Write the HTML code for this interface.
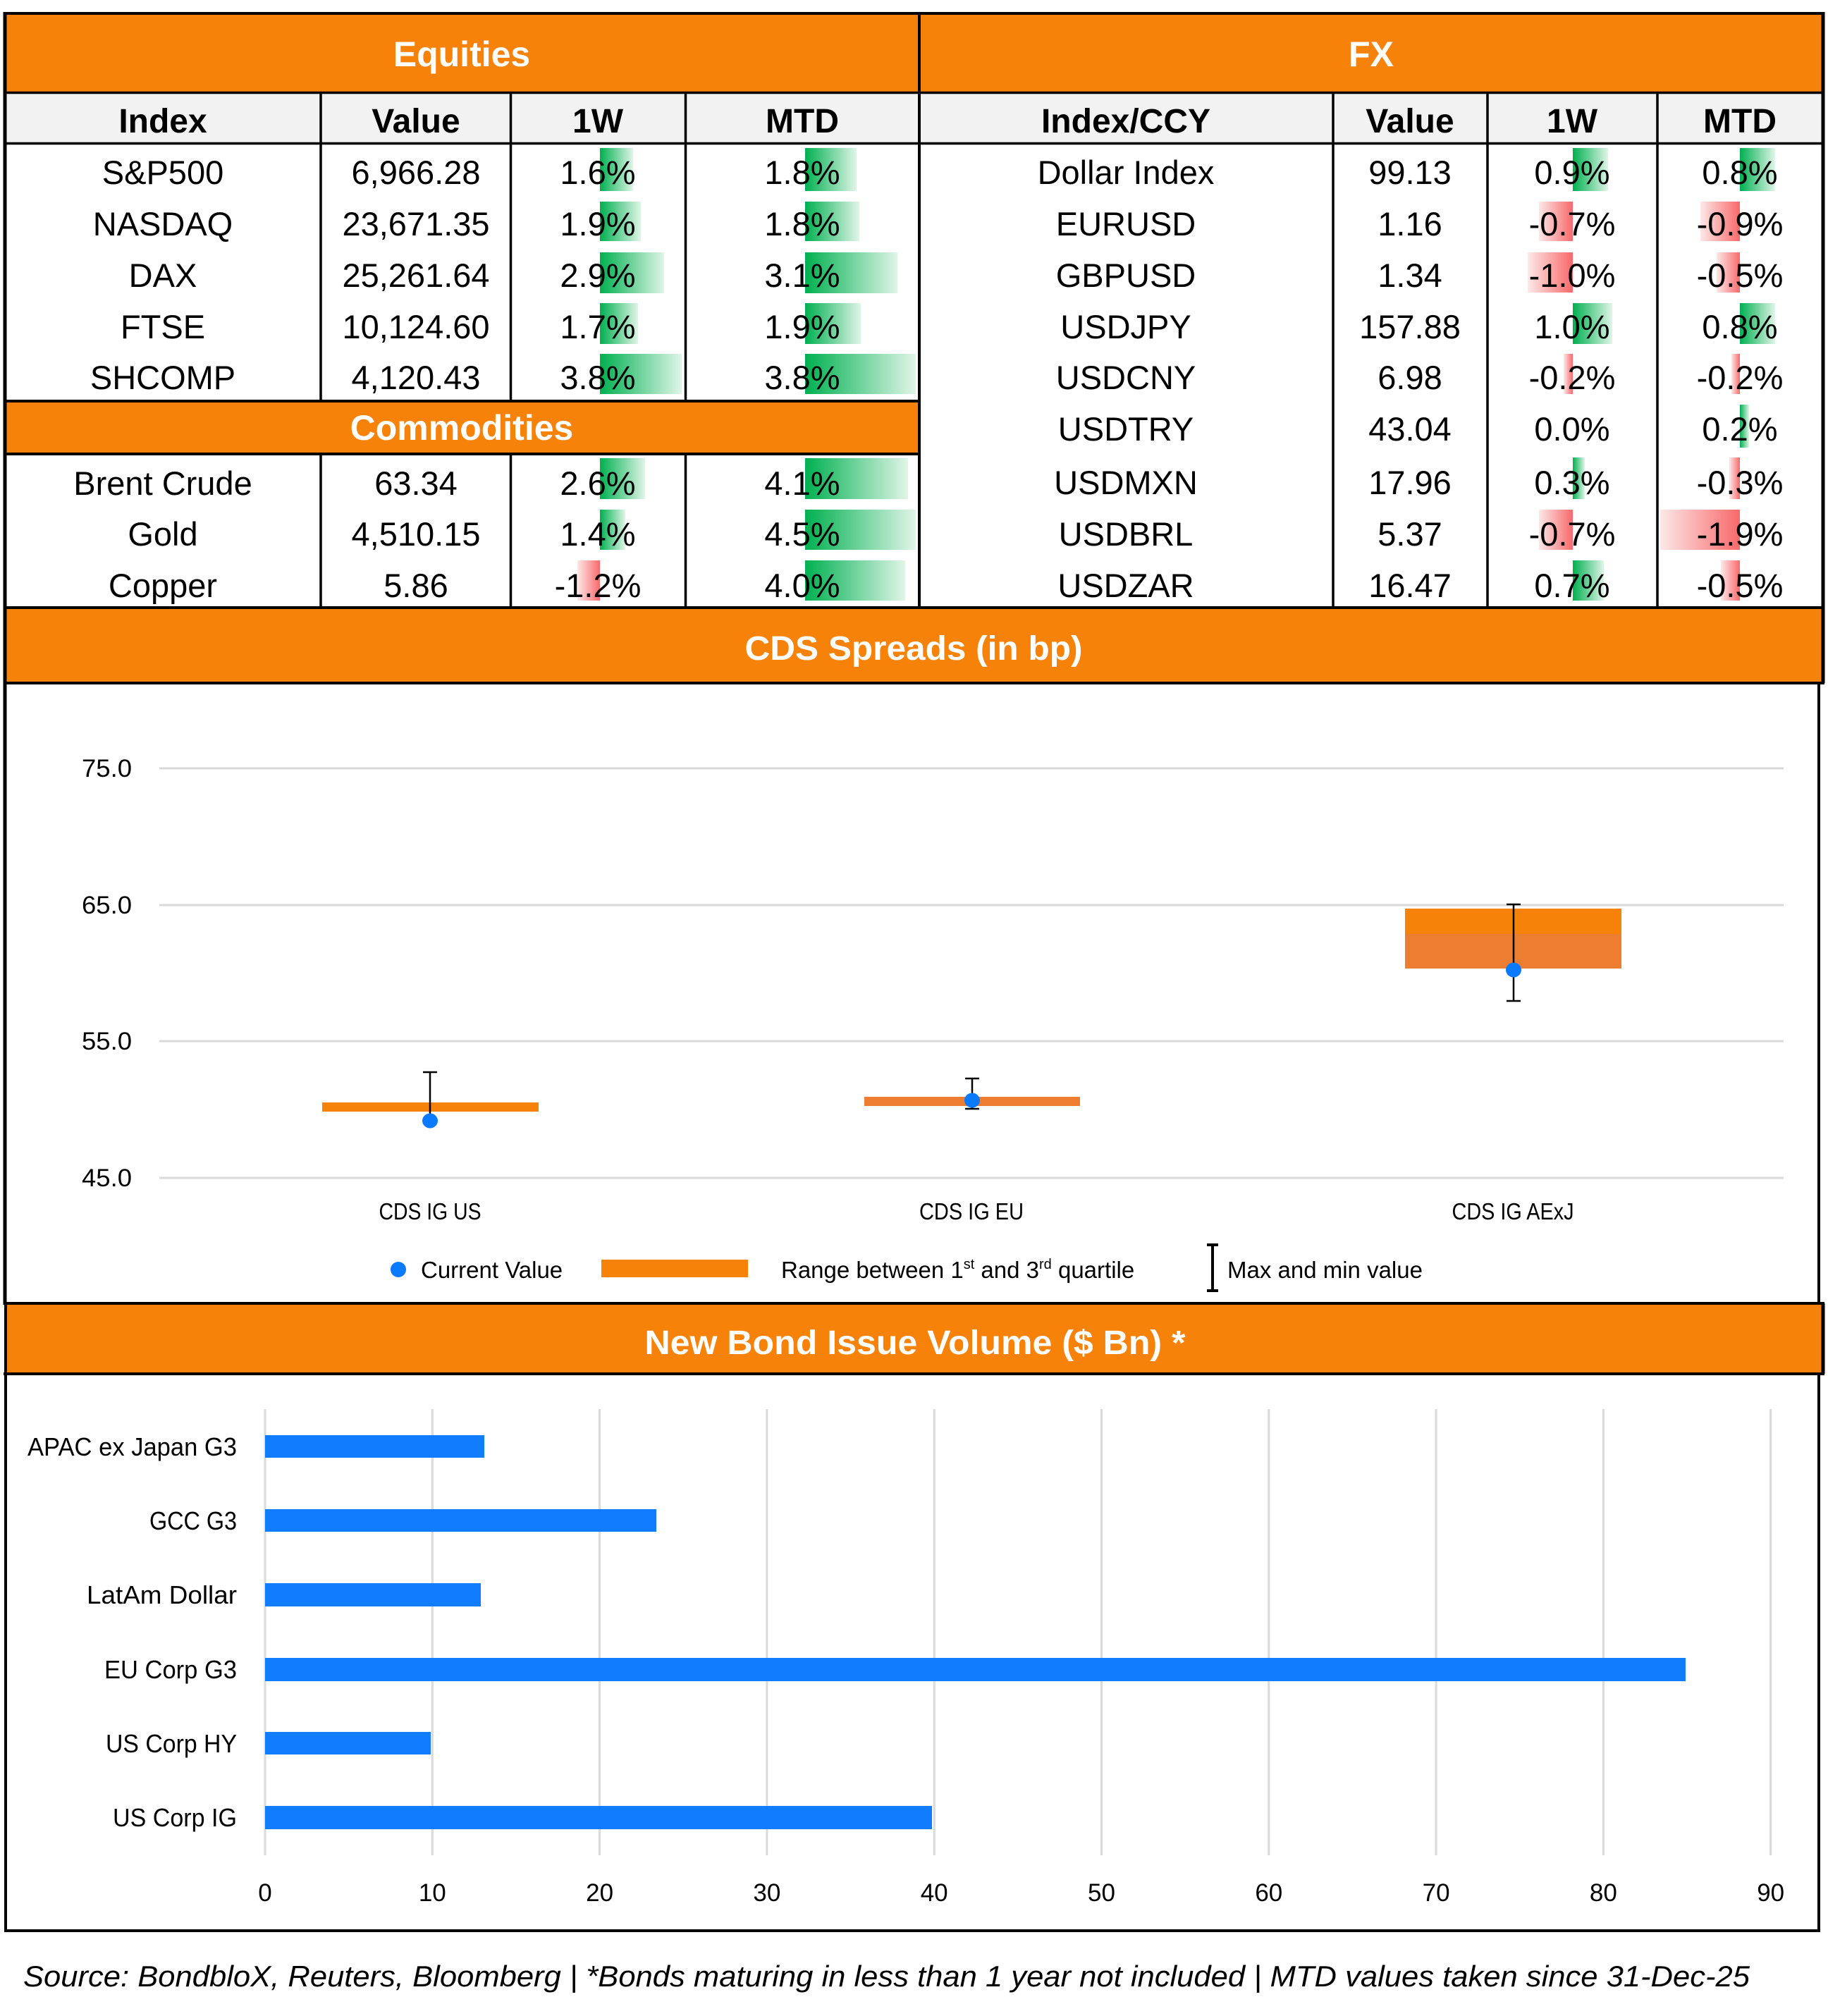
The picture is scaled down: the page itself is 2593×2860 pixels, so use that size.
<!DOCTYPE html>
<html><head><meta charset="utf-8"><style>
html,body{margin:0;padding:0;background:#fff;}
svg{display:block;}
text{font-family:"Liberation Sans",Arial,sans-serif;}
</style></head><body>
<svg width="2593" height="2860" viewBox="0 0 2593 2860" xmlns="http://www.w3.org/2000/svg">
<defs>
<linearGradient id="gG" x1="0" y1="0" x2="1" y2="0"><stop offset="0" stop-color="#00B050"/><stop offset="1" stop-color="#E0F5E8"/></linearGradient>
<linearGradient id="gR" x1="1" y1="0" x2="0" y2="0"><stop offset="0" stop-color="#F8696B"/><stop offset="1" stop-color="#FDE8E8"/></linearGradient>
</defs>
<rect x="0" y="0" width="2593" height="2860" fill="#fff"/>

<!-- TOP TABLE backgrounds -->
<rect x="7" y="21" width="2579" height="110" fill="#F7820A"/>
<rect x="7" y="131" width="2579" height="73" fill="#F2F2F2"/>
<rect x="7" y="569" width="1297" height="75" fill="#F7820A"/>

<!-- Data bars: Equities 1W (axis 851) -->
<g fill="url(#gG)">
<rect x="851" y="210" width="47" height="61"/>
<rect x="851" y="286" width="58" height="56"/>
<rect x="851" y="358" width="91" height="58"/>
<rect x="851" y="430" width="54" height="58"/>
<rect x="851" y="502" width="116" height="57"/>
<!-- Equities MTD (axis 1142) -->
<rect x="1142" y="210" width="73" height="61"/>
<rect x="1142" y="286" width="77" height="56"/>
<rect x="1142" y="358" width="131" height="58"/>
<rect x="1142" y="430" width="79" height="58"/>
<rect x="1142" y="502" width="157" height="57"/>
<!-- Commodities -->
<rect x="851" y="650" width="64" height="58"/>
<rect x="851" y="723" width="36" height="57"/>
<rect x="1142" y="650" width="146" height="58"/>
<rect x="1142" y="723" width="157" height="57"/>
<rect x="1142" y="795" width="142" height="57"/>
<!-- FX 1W (axis 2231) -->
<rect x="2231" y="210" width="50" height="61"/>
<rect x="2231" y="430" width="56" height="58"/>
<rect x="2231" y="649" width="17" height="59"/>
<rect x="2231" y="795" width="44" height="57"/>
<!-- FX MTD (axis 2468) -->
<rect x="2468" y="210" width="50" height="61"/>
<rect x="2468" y="430" width="50" height="58"/>
<rect x="2468" y="574" width="13" height="61"/>
</g>
<g fill="url(#gR)">
<rect x="819" y="795" width="32" height="57"/>
<rect x="2183" y="286" width="48" height="56"/>
<rect x="2167" y="358" width="64" height="57"/>
<rect x="2218" y="502" width="13" height="57"/>
<rect x="2183" y="723" width="48" height="57"/>
<rect x="2412" y="286" width="56" height="56"/>
<rect x="2435" y="358" width="33" height="57"/>
<rect x="2456" y="502" width="12" height="57"/>
<rect x="2453" y="649" width="15" height="59"/>
<rect x="2355" y="723" width="113" height="57"/>
<rect x="2441" y="795" width="27" height="57"/>
</g>

<!-- Table lines -->
<g stroke="#000" fill="none">
<path d="M5 19H2588" stroke-width="4"/>
<path d="M5 131.5H2588M5 203.5H2588" stroke-width="3.5"/>
<path d="M5 569H1304M5 644H1304" stroke-width="4"/>
<path d="M5 862H2588" stroke-width="4"/>
<path d="M7 17V864M2586 17V864" stroke-width="5"/>
<path d="M1304 19V862" stroke-width="4"/>
<path d="M455 131V569M724.5 131V569M972.5 131V569M455 644V862M724.5 644V862M972.5 644V862" stroke-width="3.5"/>
<path d="M1891 131V862M2110 131V862M2351 131V862" stroke-width="3.5"/>
</g>

<!-- Table headers -->
<g font-weight="bold" fill="#fff" font-size="50" text-anchor="middle">
<text x="655" y="94">Equities</text>
<text x="1945" y="94">FX</text>
<text x="655" y="624">Commodities</text>
</g>
<g font-weight="bold" fill="#000" font-size="48" text-anchor="middle">
<text x="231" y="188">Index</text>
<text x="590" y="188">Value</text>
<text x="848" y="188">1W</text>
<text x="1138" y="188">MTD</text>
<text x="1597" y="188">Index/CCY</text>
<text x="2000" y="188">Value</text>
<text x="2230" y="188">1W</text>
<text x="2468" y="188">MTD</text>
</g>

<!-- Table data -->
<g fill="#000" font-size="47" text-anchor="middle">
<text x="231" y="261">S&amp;P500</text><text x="590" y="261">6,966.28</text><text x="848" y="261">1.6%</text><text x="1138" y="261">1.8%</text>
<text x="231" y="334">NASDAQ</text><text x="590" y="334">23,671.35</text><text x="848" y="334">1.9%</text><text x="1138" y="334">1.8%</text>
<text x="231" y="407">DAX</text><text x="590" y="407">25,261.64</text><text x="848" y="407">2.9%</text><text x="1138" y="407">3.1%</text>
<text x="231" y="480">FTSE</text><text x="590" y="480">10,124.60</text><text x="848" y="480">1.7%</text><text x="1138" y="480">1.9%</text>
<text x="231" y="552">SHCOMP</text><text x="590" y="552">4,120.43</text><text x="848" y="552">3.8%</text><text x="1138" y="552">3.8%</text>

<text x="231" y="702">Brent Crude</text><text x="590" y="702">63.34</text><text x="848" y="702">2.6%</text><text x="1138" y="702">4.1%</text>
<text x="231" y="774">Gold</text><text x="590" y="774">4,510.15</text><text x="848" y="774">1.4%</text><text x="1138" y="774">4.5%</text>
<text x="231" y="847">Copper</text><text x="590" y="847">5.86</text><text x="848" y="847">-1.2%</text><text x="1138" y="847">4.0%</text>

<text x="1597" y="261">Dollar Index</text><text x="2000" y="261">99.13</text><text x="2230" y="261">0.9%</text><text x="2468" y="261">0.8%</text>
<text x="1597" y="334">EURUSD</text><text x="2000" y="334">1.16</text><text x="2230" y="334">-0.7%</text><text x="2468" y="334">-0.9%</text>
<text x="1597" y="407">GBPUSD</text><text x="2000" y="407">1.34</text><text x="2230" y="407">-1.0%</text><text x="2468" y="407">-0.5%</text>
<text x="1597" y="480">USDJPY</text><text x="2000" y="480">157.88</text><text x="2230" y="480">1.0%</text><text x="2468" y="480">0.8%</text>
<text x="1597" y="552">USDCNY</text><text x="2000" y="552">6.98</text><text x="2230" y="552">-0.2%</text><text x="2468" y="552">-0.2%</text>
<text x="1597" y="625">USDTRY</text><text x="2000" y="625">43.04</text><text x="2230" y="625">0.0%</text><text x="2468" y="625">0.2%</text>
<text x="1597" y="701">USDMXN</text><text x="2000" y="701">17.96</text><text x="2230" y="701">0.3%</text><text x="2468" y="701">-0.3%</text>
<text x="1597" y="774">USDBRL</text><text x="2000" y="774">5.37</text><text x="2230" y="774">-0.7%</text><text x="2468" y="774">-1.9%</text>
<text x="1597" y="847">USDZAR</text><text x="2000" y="847">16.47</text><text x="2230" y="847">0.7%</text><text x="2468" y="847">-0.5%</text>
</g>

<!-- CDS section -->
<rect x="7" y="864" width="2579" height="104" fill="#F7820A"/>
<g stroke="#000" fill="none">
<path d="M5 969H2588" stroke-width="4"/>
<path d="M7 862V1851" stroke-width="5"/>
<path d="M2586 862V969" stroke-width="5"/>
<path d="M2580 969V1849" stroke-width="4"/>
</g>
<text x="1296" y="936" font-size="48" font-weight="bold" fill="#fff" text-anchor="middle" textLength="479" lengthAdjust="spacingAndGlyphs">CDS Spreads (in bp)</text>

<g stroke="#D9D9D9" stroke-width="3">
<path d="M226 1090H2530M226 1284H2530M226 1477H2530M226 1671H2530"/>
</g>
<g font-size="35" fill="#000" text-anchor="end">
<text x="187" y="1102" textLength="71" lengthAdjust="spacingAndGlyphs">75.0</text>
<text x="187" y="1296" textLength="71" lengthAdjust="spacingAndGlyphs">65.0</text>
<text x="187" y="1489" textLength="71" lengthAdjust="spacingAndGlyphs">55.0</text>
<text x="187" y="1683" textLength="71" lengthAdjust="spacingAndGlyphs">45.0</text>
</g>

<!-- boxes -->
<rect x="457" y="1564" width="307" height="13" fill="#F7820A"/>
<rect x="1226" y="1556" width="306" height="13" fill="#ED7D31"/>
<rect x="1993" y="1289" width="307" height="36" fill="#F7820A"/>
<rect x="1993" y="1325" width="307" height="49" fill="#ED7D31"/>
<!-- error bars -->
<g stroke="#000" stroke-width="2.5" fill="none">
<path d="M610 1521V1590M600 1521H620M600 1590H620"/>
<path d="M1379 1530V1573M1369 1530H1389M1369 1573H1389"/>
<path d="M2147 1283V1420M2137 1283H2157M2137 1420H2157"/>
</g>
<g fill="#0A7BFF">
<ellipse cx="610" cy="1590" rx="11" ry="10.5"/>
<ellipse cx="1379" cy="1561" rx="11" ry="10.5"/>
<ellipse cx="2147" cy="1376" rx="11" ry="10.5"/>
</g>
<g font-size="33" fill="#000" text-anchor="middle">
<text x="610" y="1730" textLength="145" lengthAdjust="spacingAndGlyphs">CDS IG US</text>
<text x="1378" y="1730" textLength="148" lengthAdjust="spacingAndGlyphs">CDS IG EU</text>
<text x="2146" y="1730" textLength="173" lengthAdjust="spacingAndGlyphs">CDS IG AExJ</text>
</g>
<!-- legend -->
<ellipse cx="565" cy="1801" rx="11" ry="11" fill="#0A7BFF"/>
<text x="597" y="1813" font-size="33" fill="#000">Current Value</text>
<rect x="853" y="1787" width="208" height="25" fill="#F7820A"/>
<text x="1108" y="1813" font-size="33" fill="#000">Range between 1<tspan font-size="20" dy="-13">st</tspan><tspan dy="13"> and 3</tspan><tspan font-size="20" dy="-13">rd</tspan><tspan dy="13"> quartile</tspan></text>
<g stroke="#000" stroke-width="4" fill="none"><path d="M1720 1766V1831M1712 1766H1728M1712 1831H1728"/></g>
<text x="1741" y="1813" font-size="33" fill="#000">Max and min value</text>

<!-- Bond section -->
<rect x="8" y="1851" width="2578" height="96" fill="#F7820A"/>
<g stroke="#000" fill="none">
<path d="M5 1849H2588" stroke-width="4"/>
<path d="M5 1949H2588" stroke-width="4"/>
<path d="M2586 1849V1949" stroke-width="5"/>
<path d="M8 1849V2741" stroke-width="4"/>
<path d="M2580 1949V2741" stroke-width="4"/>
<path d="M6 2739H2582" stroke-width="4"/>
</g>
<text x="1298" y="1921" font-size="48" font-weight="bold" fill="#fff" text-anchor="middle" textLength="767" lengthAdjust="spacingAndGlyphs">New Bond Issue Volume ($ Bn) *</text>

<g stroke="#D9D9D9" stroke-width="3">
<path d="M376 1999V2632M613.3 1999V2632M850.6 1999V2632M1087.9 1999V2632M1325.2 1999V2632M1562.5 1999V2632M1799.8 1999V2632M2037.1 1999V2632M2274.4 1999V2632M2511.7 1999V2632"/>
</g>
<g fill="#127CFF">
<rect x="376" y="2036" width="311" height="32"/>
<rect x="376" y="2141" width="555" height="32"/>
<rect x="376" y="2246" width="306" height="33"/>
<rect x="376" y="2352" width="2015" height="33"/>
<rect x="376" y="2457" width="235" height="32"/>
<rect x="376" y="2562" width="946" height="33"/>
</g>
<g font-size="36" fill="#000" text-anchor="end">
<text x="336" y="2065" textLength="297" lengthAdjust="spacingAndGlyphs">APAC ex Japan G3</text>
<text x="336" y="2170" textLength="124" lengthAdjust="spacingAndGlyphs">GCC G3</text>
<text x="336" y="2275" textLength="213" lengthAdjust="spacingAndGlyphs">LatAm Dollar</text>
<text x="336" y="2381" textLength="188" lengthAdjust="spacingAndGlyphs">EU Corp G3</text>
<text x="336" y="2486" textLength="186" lengthAdjust="spacingAndGlyphs">US Corp HY</text>
<text x="336" y="2591" textLength="176" lengthAdjust="spacingAndGlyphs">US Corp IG</text>
</g>
<g font-size="35" fill="#000" text-anchor="middle">
<text x="376" y="2697">0</text>
<text x="613.3" y="2697">10</text>
<text x="850.6" y="2697">20</text>
<text x="1087.9" y="2697">30</text>
<text x="1325.2" y="2697">40</text>
<text x="1562.5" y="2697">50</text>
<text x="1799.8" y="2697">60</text>
<text x="2037.1" y="2697">70</text>
<text x="2274.4" y="2697">80</text>
<text x="2511.7" y="2697">90</text>
</g>

<!-- Footer -->
<text x="33" y="2818" font-size="42" font-style="italic" fill="#000" textLength="2449" lengthAdjust="spacingAndGlyphs">Source: BondbloX, Reuters, Bloomberg | *Bonds maturing in less than 1 year not included | MTD values taken since 31-Dec-25</text>
</svg>
</body></html>
